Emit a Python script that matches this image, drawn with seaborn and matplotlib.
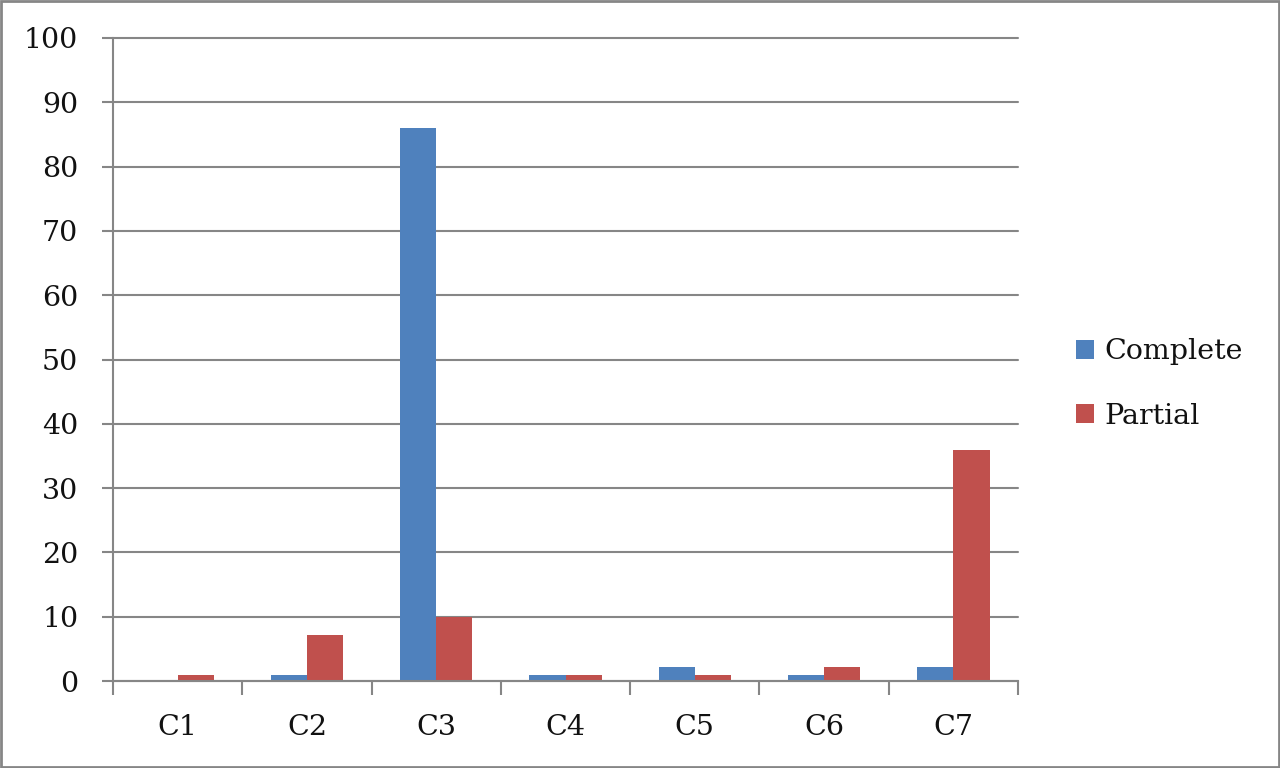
import matplotlib
matplotlib.use('Agg')
import numpy as np
import pandas as pd
import matplotlib.pyplot as plt
import seaborn as sns
from matplotlib.ticker import FixedLocator

categories = ['C1', 'C2', 'C3', 'C4', 'C5', 'C6', 'C7']
complete = [0, 1, 86, 1, 2.2, 1, 2.2]
partial = [1, 7.2, 10, 1, 1, 2.2, 36]
series = ['Complete', 'Partial']
colors = ['#4F81BD', '#C0504D']

df = pd.DataFrame({
    'cat': categories * 2,
    'value': complete + partial,
    'series': ['Complete'] * len(categories) + ['Partial'] * len(categories),
})

sns.set_style('white')
plt.rcParams['font.family'] = ['DejaVu Serif']
plt.rcParams['text.color'] = '#111111'
plt.rcParams['xtick.color'] = '#111111'
plt.rcParams['ytick.color'] = '#111111'

fig = plt.figure(figsize=(12.8, 7.68), dpi=100)
ax = fig.add_axes([113 / 1280, 1 - 681 / 768, (1018 - 113) / 1280, (681 - 38) / 768])

sns.barplot(data=df, x='cat', y='value', hue='series', palette=colors,
            width=0.56, saturation=1, linewidth=0, ax=ax, legend=True)

ax.set_ylim(0, 100)
ax.set_xlim(-0.5, len(categories) - 0.5)
ax.set_yticks(np.arange(0, 101, 10))
ax.yaxis.grid(True, color='#868686', linewidth=1.5)
for gl in ax.get_ygridlines():
    gl.set_clip_on(False)
ax.set_axisbelow(True)
ax.set_xlabel('')
ax.set_ylabel('')

for s in ['top', 'right']:
    ax.spines[s].set_visible(False)
for s in ['left', 'bottom']:
    ax.spines[s].set_color('#868686')
    ax.spines[s].set_linewidth(1.5)

ax.tick_params(axis='y', length=8, width=1.5, color='#868686', labelcolor='#111111',
               labelsize=20.5, pad=17, left=True)
ax.tick_params(axis='x', which='major', length=0, labelsize=20.5, labelcolor='#111111', pad=24)
ax.xaxis.set_minor_locator(FixedLocator(np.arange(-0.5, len(categories), 1)))
ax.tick_params(axis='x', which='minor', length=10, width=1.5, color='#868686', bottom=True)

leg = ax.legend(loc='center left', frameon=False, fontsize=20.5, handlelength=0.65,
                handleheight=0.65, handletextpad=0.35, labelspacing=1.3)
leg.set_bbox_to_anchor((1050 / 1280, 1 - 384 / 768), transform=fig.transFigure)

border = plt.Rectangle((0.001, 0.001), 0.998, 0.998, transform=fig.transFigure,
                       fill=False, edgecolor='#868686', linewidth=2)
fig.patches.append(border)

fig.savefig('out.png', dpi=100)
